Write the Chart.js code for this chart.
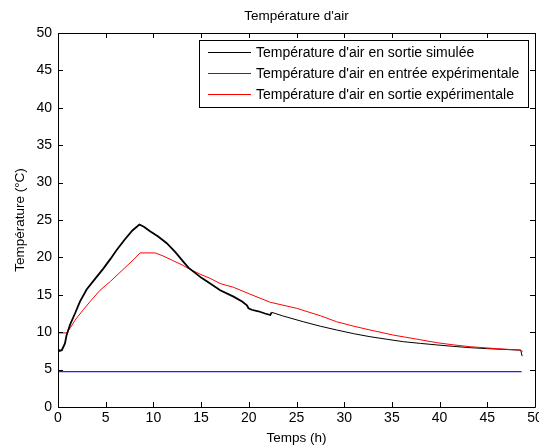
<!DOCTYPE html>
<html>
<head>
<meta charset="utf-8">
<script src="https://cdn.jsdelivr.net/npm/chart.js@4.4.0/dist/chart.umd.min.js"></script>
<style>
  html, body { margin: 0; padding: 0; background: #fff; }
  #wrap { width: 539px; height: 448px; }
</style>
</head>
<body>
<div id="wrap"><canvas id="tempChart"></canvas></div>
<script>
// Données
const titre = "Température d'air";
const labelX = 'Temps (h)';
const labelY = 'Température (°C)';
const noms = [
    "Température d'air en sortie simulée",
    "Température d'air en entrée expérimentale",
    "Température d'air en sortie expérimentale"
];
const ticksX = [0, 5, 10, 15, 20, 25, 30, 35, 40, 45, 50];
const ticksY = [0, 5, 10, 15, 20, 25, 30, 35, 40, 45, 50];

// sortie simulée, partie épaisse (0 - 22.4 h)
const tSim1 = [0, 0.15, 0.4, 0.73, 0.9, 1.26, 1.78, 2.3, 3.0, 3.8, 4.75, 5.5, 6.15, 7.0, 7.8, 8.53,
    9.0, 9.65, 10.5, 11.4, 12.3, 13.15, 13.7, 14.2, 15.0, 15.95, 17.0, 18.4, 19.3, 19.8, 19.97,
    20.3, 21.0, 21.7, 22.25, 22.4];
const vSim1 = [7.8, 7.5, 7.6, 8.5, 9.6, 11.0, 12.5, 14.1, 15.7, 17.0, 18.5, 19.8, 21.0, 22.4, 23.6, 24.4,
    24.1, 23.5, 22.8, 21.9, 20.7, 19.4, 18.6, 18.1, 17.3, 16.5, 15.6, 14.75, 14.1, 13.6, 13.2,
    13.0, 12.8, 12.5, 12.3, 12.66];
// sortie simulée, partie fine (22.4 - 48.65 h)
const tSim2 = [22.4, 23.5, 25.7, 27.5, 29.2, 31.0, 32.7, 34.5, 36.2, 38.0, 39.7, 41.5, 43.2, 45.0, 46.7, 48.5, 48.65];
const vSim2 = [12.66, 12.2, 11.4, 10.8, 10.3, 9.8, 9.4, 9.05, 8.73, 8.5, 8.3, 8.1, 7.93, 7.8, 7.7, 7.6, 6.8];

// entrée expérimentale
const tEnt = [0, 10, 20, 30, 40, 48.6];
const vEnt = [4.72, 4.72, 4.72, 4.72, 4.72, 4.72];

// sortie expérimentale
const tSor = [0, 0.9, 1.3, 1.78, 2.65, 3.5, 4.4, 5.5, 7.0, 8.0, 8.6, 10.2, 11.0, 12.0, 13.0, 13.85,
    15.0, 15.95, 17.0, 18.4, 20.1, 22.25, 25.0, 27.5, 29.2, 31.0, 32.7, 35.2, 37.5, 39.7, 41.5,
    43.2, 46.0, 48.5, 48.7];
const vSor = [9.9, 9.9, 10.6, 11.6, 13.0, 14.3, 15.6, 16.8, 18.6, 19.8, 20.6, 20.6, 20.2, 19.6, 19.0, 18.4,
    17.7, 17.2, 16.5, 16.0, 15.1, 14.0, 13.2, 12.2, 11.4, 10.8, 10.3, 9.6, 9.1, 8.6, 8.3,
    8.06, 7.8, 7.6, 7.4];

function points(ts, vs) {
    return ts.map((t, i) => ({ x: t, y: vs[i] }));
}

const police = "'Liberation Sans', Arial, sans-serif";

// Cadre MATLAB : boîte complète + graduations vers l'intérieur + titre centré sur les axes
const cadrePlugin = {
    id: 'cadre',
    afterDraw(chart) {
        const ctx = chart.ctx;
        const a = chart.chartArea;
        const sx = chart.scales.x;
        const sy = chart.scales.y;
        const L = 5;
        ctx.save();
        ctx.strokeStyle = '#000';
        ctx.lineWidth = 1;
        ctx.beginPath();
        ctx.rect(Math.round(a.left) + 0.5, Math.round(a.top) + 0.5,
            Math.round(a.right - a.left), Math.round(a.bottom - a.top));
        sx.ticks.forEach(t => {
            const px = Math.round(sx.getPixelForValue(t.value)) + 0.5;
            ctx.moveTo(px, a.bottom);
            ctx.lineTo(px, a.bottom - L);
            ctx.moveTo(px, a.top);
            ctx.lineTo(px, a.top + L);
        });
        sy.ticks.forEach(t => {
            const py = Math.round(sy.getPixelForValue(t.value)) + 0.5;
            ctx.moveTo(a.left, py);
            ctx.lineTo(a.left + L, py);
            ctx.moveTo(a.right, py);
            ctx.lineTo(a.right - L, py);
        });
        ctx.stroke();

        ctx.fillStyle = '#000';
        ctx.font = '13.5px ' + police;
        ctx.textAlign = 'center';
        ctx.textBaseline = 'middle';
        ctx.fillText(titre, (a.left + a.right) / 2, a.top - 17);
        ctx.restore();
    }
};

// Légende dans le coin supérieur droit
const legendePlugin = {
    id: 'legendeInterne',
    afterDraw(chart) {
        const ctx = chart.ctx;
        const a = chart.chartArea;
        const items = chart.data.datasets.filter(d => d.legende);
        ctx.save();
        ctx.font = '14px ' + police;
        let largeur = 0;
        items.forEach(d => { largeur = Math.max(largeur, ctx.measureText(d.label).width); });
        const w = Math.round(9 + 43 + 5 + largeur + 9);
        const h = 67;
        const x0 = Math.round(a.right - 7 - w);
        const y0 = Math.round(a.top + 7);
        ctx.fillStyle = '#fff';
        ctx.fillRect(x0, y0, w, h);
        ctx.strokeStyle = '#000';
        ctx.lineWidth = 1;
        ctx.strokeRect(x0 + 0.5, y0 + 0.5, w, h);
        ctx.textBaseline = 'middle';
        ctx.textAlign = 'left';
        items.forEach((d, i) => {
            const y = y0 + 12 + i * 21;
            ctx.strokeStyle = d.borderColor;
            ctx.lineWidth = 1;
            ctx.beginPath();
            ctx.moveTo(x0 + 9, y + 0.5);
            ctx.lineTo(x0 + 52, y + 0.5);
            ctx.stroke();
            ctx.fillStyle = '#000';
            ctx.fillText(d.label, x0 + 57, y + 1);
        });
        ctx.restore();
    }
};

const ctxTemp = document.getElementById('tempChart').getContext('2d');

new Chart(ctxTemp, {
    type: 'line',
    data: {
        datasets: [
            {
                label: noms[0],
                legende: true,
                data: points(tSim1, vSim1),
                borderColor: '#000000',
                borderWidth: 1.8
            },
            {
                label: noms[1],
                legende: true,
                data: points(tEnt, vEnt),
                borderColor: '#2020ff',
                borderWidth: 1.2
            },
            {
                label: noms[2],
                legende: true,
                data: points(tSor, vSor),
                borderColor: '#ff0000',
                borderWidth: 1
            },
            {
                label: noms[0] + ' (suite)',
                legende: false,
                data: points(tSim2, vSim2),
                borderColor: '#000000',
                borderWidth: 1
            }
        ]
    },
    options: {
        responsive: true,
        maintainAspectRatio: false,
        animation: false,
        elements: {
            point: { radius: 0 },
            line: { tension: 0, fill: false }
        },
        layout: { padding: { left: 0, right: 4, top: 33, bottom: 0 } },
        plugins: {
            legend: { display: false },
            tooltip: { enabled: false },
            title: { display: false }
        },
        scales: {
            x: {
                type: 'linear',
                min: 0,
                max: 50,
                afterBuildTicks: (scale) => { scale.ticks = ticksX.map(v => ({ value: v })); },
                afterFit: (scale) => {
                    scale.height = 41;
                    scale.paddingLeft = 0;
                    scale.paddingRight = 0;
                },
                grid: { display: false, drawTicks: false },
                border: { display: false },
                ticks: {
                    color: '#000',
                    padding: 3,
                    maxRotation: 0,
                    autoSkip: false,
                    font: { family: police, size: 14 }
                },
                title: {
                    display: true,
                    text: labelX,
                    color: '#000',
                    font: { family: police, size: 13.5, lineHeight: 1.2 },
                    padding: { top: 0, bottom: 2 }
                }
            },
            y: {
                type: 'linear',
                min: 0,
                max: 50,
                afterBuildTicks: (scale) => { scale.ticks = ticksY.map(v => ({ value: v })); },
                afterFit: (scale) => {
                    scale.width = 58;
                    scale.paddingTop = 0;
                    scale.paddingBottom = 0;
                },
                grid: { display: false, drawTicks: false },
                border: { display: false },
                ticks: {
                    color: '#000',
                    padding: 6,
                    autoSkip: false,
                    font: { family: police, size: 14 }
                },
                title: {
                    display: true,
                    text: labelY,
                    color: '#000',
                    font: { family: police, size: 13.5, lineHeight: 1.2 },
                    padding: { top: 12, bottom: 0 }
                }
            }
        }
    },
    plugins: [cadrePlugin, legendePlugin]
});
</script>
</body>
</html>
